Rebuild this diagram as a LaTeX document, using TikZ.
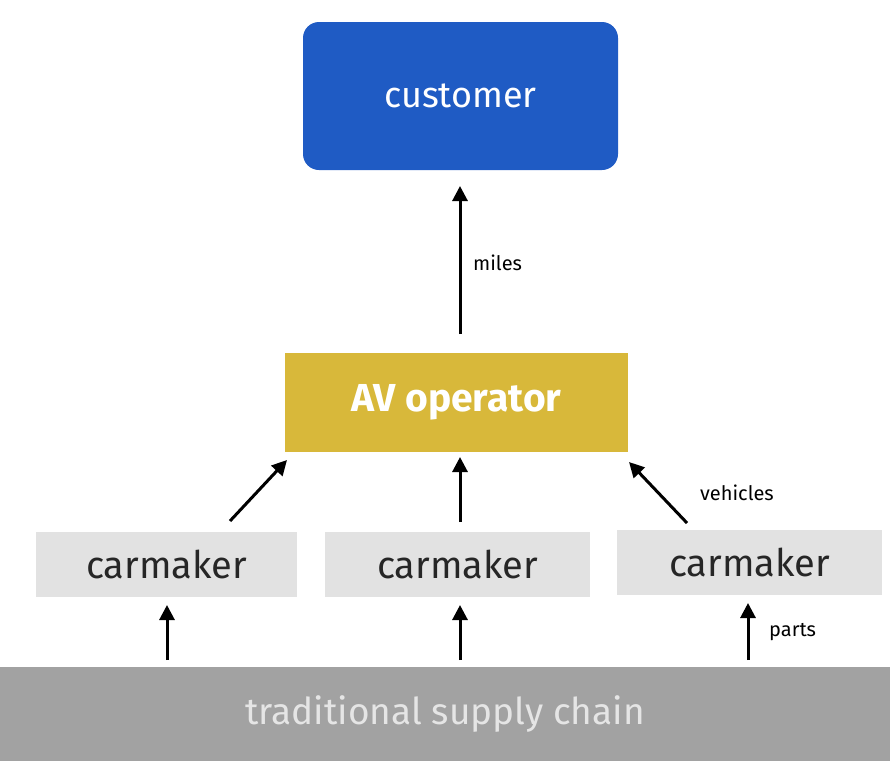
\documentclass[tikz,border=0pt]{standalone}
\usepackage{fontspec}
\setmainfont{Fira Sans}
\usetikzlibrary{arrows.meta}
\definecolor{custblue}{HTML}{1F5BC4}
\definecolor{avgold}{HTML}{D8B83A}
\definecolor{cmgray}{HTML}{E2E2E2}
\definecolor{scgray}{HTML}{A2A2A2}
\tikzset{
  box/.style={inner sep=0pt, outer sep=0pt, anchor=north west},
  flow/.style={line width=3pt, -{Triangle[length=15pt,width=15pt]}},
  lbl/.style={font=\fontsize{20}{24}\selectfont, anchor=west, inner sep=0pt},
  cmtext/.style={font=\fontsize{38}{44}\selectfont, text=black!85}
}
\begin{document}
\begin{tikzpicture}[x=1pt,y=-1pt]
\useasboundingbox (0,0) rectangle (890,761);
% customer
\node[box, fill=custblue, rounded corners=16pt, minimum width=315pt, minimum height=148pt] (cust) at (303,22) {};
\node[text=white, font=\fontsize{36}{42}\selectfont] (custt) at (cust.center) {customer};
% AV operator
\node[box, fill=avgold, minimum width=343pt, minimum height=99pt] (av) at (285,353) {};
\node[text=white, font=\bfseries\fontsize{39}{46}\selectfont] (avt) at (av.center) {AV operator};
% carmakers
\node[box, fill=cmgray, minimum width=261pt, minimum height=65pt] (c1) at (36,532) {};
\node[box, fill=cmgray, minimum width=265pt, minimum height=65pt] (c2) at (325,532) {};
\node[box, fill=cmgray, minimum width=265pt, minimum height=65pt] (c3) at (617,530) {};
\node[cmtext] (c1t) at (c1.center) {carmaker};
\node[cmtext] (c2t) at (c2.center) {carmaker};
\node[cmtext] (c3t) at (c3.center) {carmaker};
% supply chain
\node[box, fill=scgray, minimum width=890pt, minimum height=94pt] (sc) at (0,667) {};
\node[text=white!90!black, font=\fontsize{37}{43}\selectfont] (sct) at (sc.center) {traditional supply chain};
% arrow anchors
\coordinate (m0) at (460,334);
\coordinate (m1) at (460,186);
\coordinate (a1s) at (230,521);
\coordinate (a1e) at (287,460);
\coordinate (a2s) at (460,522);
\coordinate (a2e) at (460,457);
\coordinate (a3s) at (687,523);
\coordinate (a3e) at (629,462);
\coordinate (b1s) at (167,660);
\coordinate (b1e) at (167,605);
\coordinate (b2s) at (460,660);
\coordinate (b2e) at (460,605);
\coordinate (b3s) at (748,660);
\coordinate (b3e) at (748,603);
\draw[flow] (m0) -- (m1);
\draw[flow] (a1s) -- (a1e);
\draw[flow] (a2s) -- (a2e);
\draw[flow] (a3s) -- (a3e);
\draw[flow] (b1s) -- (b1e);
\draw[flow] (b2s) -- (b2e);
\draw[flow] (b3s) -- (b3e);
\node[lbl] (miles) at (473,263) {miles};
\node[lbl] (veh) at (700,493) {vehicles};
\node[lbl] (parts) at (769,632) {parts};
\end{tikzpicture}
\end{document}
